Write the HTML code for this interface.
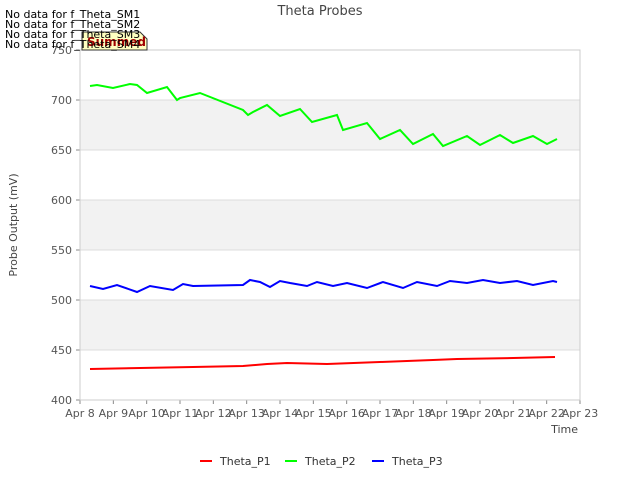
<!DOCTYPE html>
<html><head><meta charset="utf-8"><style>
body{margin:0;background:#fff;font-family:"Liberation Sans","DejaVu Sans",sans-serif}
svg text{font-family:"DejaVu Sans","Liberation Sans",sans-serif}
</style></head><body>
<svg id="c" width="640" height="480"></svg>
<script>
const xTicks=["Apr 8","Apr 9","Apr 10","Apr 11","Apr 12","Apr 13","Apr 14","Apr 15","Apr 16","Apr 17","Apr 18","Apr 19","Apr 20","Apr 21","Apr 22","Apr 23"];
const yTicks=[400,450,500,550,600,650,700,750];
const p1Days=[0.3,3.39,4.89,5.61,6.21,7.41,9.0,10.59,11.31,13.0,14.25];
const p1Vals=[431,433,434,436,437,436,438,440,441,442,443];
const p2Days=[0.3,0.51,0.99,1.5,1.71,2.01,2.61,2.91,3.0,3.6,4.89,5.04,5.19,5.61,6.0,6.6,6.96,7.71,7.89,8.61,9.0,9.6,9.99,10.59,10.89,11.61,12.0,12.6,12.99,13.59,14.01,14.31];
const p2Vals=[714,715,712,716,715,707,713,700,702,707,690,685,688,695,684,691,678,685,670,677,661,670,656,666,654,664,655,665,657,664,656,661];
const p3Days=[0.3,0.69,1.11,1.71,2.1,2.79,3.09,3.39,4.89,5.1,5.4,5.7,6.0,6.3,6.81,7.11,7.59,8.01,8.61,9.09,9.69,10.11,10.71,11.1,11.61,12.09,12.6,13.11,13.59,14.19,14.31];
const p3Vals=[514,511,515,508,514,510,516,514,515,520,518,513,519,517,514,518,514,517,512,518,512,518,514,519,517,520,517,519,515,519,518];
const NS="http://www.w3.org/2000/svg",svg=document.getElementById('c');
const X0=80,X1=580,Y0=400,Y1=50;
const xs=d=>X0+d*(X1-X0)/15, ys=v=>Y0-(v-400)*(Y0-Y1)/350;
function mk(t,a,p){const e=document.createElementNS(NS,t);for(const k in a)e.setAttribute(k,a[k]);(p||svg).appendChild(e);return e;}
[[650,700],[550,600],[450,500]].forEach(b=>{const r=mk('rect',{x:X0,y:ys(b[1]),width:X1-X0,height:ys(b[0])-ys(b[1]),fill:'#f2f2f2'});

});
yTicks.forEach(v=>{const l=mk('line',{x1:X0,x2:X1,y1:ys(v),y2:ys(v),stroke:'#dcdcdc'});


mk('line',{x1:X0-4,x2:X0,y1:ys(v),y2:ys(v),stroke:'#888'});
const t=mk('text',{x:X0-8,y:ys(v)+4,'text-anchor':'end','font-size':11,fill:'#555'});t.textContent=v;

});
xTicks.forEach((s,i)=>{mk('line',{x1:xs(i),x2:xs(i),y1:Y0,y2:Y0+4,stroke:'#888'});
const t=mk('text',{x:xs(i),y:Y0+17,'text-anchor':'middle','font-size':11,fill:'#555'});t.textContent=s;

});
const fr=mk('rect',{x:X0,y:Y1,width:X1-X0,height:Y0-Y1,fill:'none',stroke:'#ccc'});


function series(d,v,c,n){const pl=mk('polyline',{points:d.map((x,i)=>xs(x)+','+ys(v[i])).join(' '),fill:'none',stroke:c,'stroke-width':2});

}
series(p1Days,p1Vals,'#ff0000','series-theta-p1');
series(p2Days,p2Vals,'#00ff00','series-theta-p2');
series(p3Days,p3Vals,'#0000ff','series-theta-p3');
let t=mk('text',{x:320,y:15,'text-anchor':'middle','font-size':13,fill:'#444'});t.textContent='Theta Probes';


t=mk('text',{x:578,y:433,'text-anchor':'end','font-size':11,fill:'#444'});t.textContent='Time';


t=mk('text',{x:17,y:225,'text-anchor':'middle','font-size':11,fill:'#444',transform:'rotate(-90 17 225)'});t.textContent='Probe Output (mV)';


const tip=mk('path',{d:'M82,32 H140 L147,39 V50 H82 Z',fill:'#ffffc0',stroke:'#333'});


t=mk('text',{x:87,y:46,'font-size':12,'font-weight':'bold',fill:'#a00000'});t.textContent='Summed';


['SM1','SM2','SM3','SM4'].forEach((s,i)=>{const n=mk('text',{x:5,y:18+i*10,'font-size':11,fill:'#000'});n.textContent='No data for f_Theta_'+s;

});
[['Theta_P1','#ff0000',200],['Theta_P2','#00ff00',285],['Theta_P3','#0000ff',372]].forEach(l=>{
const g=mk('g',{});


mk('line',{x1:l[2],x2:l[2]+12,y1:461,y2:461,stroke:l[1],'stroke-width':2},g);
const tt=mk('text',{x:l[2]+20,y:465,'font-size':11,fill:'#333'},g);tt.textContent=l[0];});
</script>
</body></html>
